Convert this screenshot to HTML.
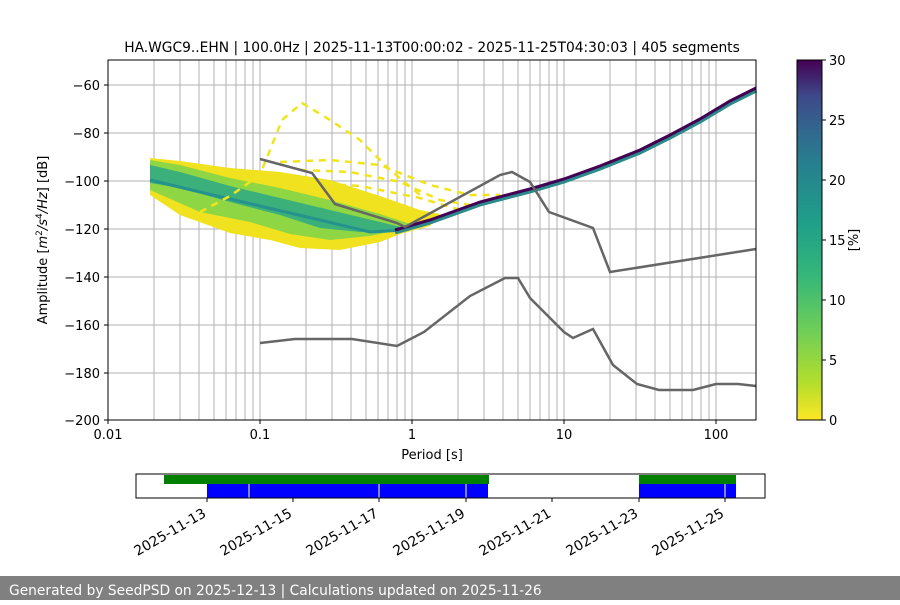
<!DOCTYPE html>
<html><head><meta charset="utf-8"><style>
body{margin:0;background:#fff;}
svg text{font-family:"DejaVu Sans","Liberation Sans",sans-serif;fill:#000;}
</style></head><body>
<svg width="900" height="600" xmlns="http://www.w3.org/2000/svg">
<defs>
<linearGradient id="vir" x1="0" y1="1" x2="0" y2="0">
<stop offset="0" stop-color="#fde725"/><stop offset="0.1" stop-color="#b5de2b"/><stop offset="0.25" stop-color="#6ece58"/><stop offset="0.4" stop-color="#35b779"/><stop offset="0.55" stop-color="#1f9e89"/><stop offset="0.7" stop-color="#26828e"/><stop offset="0.8" stop-color="#31688e"/><stop offset="0.9" stop-color="#3e4989"/><stop offset="1" stop-color="#440154"/>
</linearGradient>
</defs>
<text x="432" y="52" font-size="13.8" text-anchor="middle">HA.WGC9..EHN | 100.0Hz | 2025-11-13T00:00:02 - 2025-11-25T04:30:03 | 405 segments</text>
<!-- grid -->
<g stroke="#b0b0b0" stroke-width="1">
<line x1="154" y1="60" x2="154" y2="420"/><line x1="180" y1="60" x2="180" y2="420"/><line x1="199" y1="60" x2="199" y2="420"/><line x1="214" y1="60" x2="214" y2="420"/><line x1="226" y1="60" x2="226" y2="420"/><line x1="236" y1="60" x2="236" y2="420"/><line x1="245" y1="60" x2="245" y2="420"/><line x1="253" y1="60" x2="253" y2="420"/><line x1="260" y1="60" x2="260" y2="420"/>
<line x1="306" y1="60" x2="306" y2="420"/><line x1="332" y1="60" x2="332" y2="420"/><line x1="351" y1="60" x2="351" y2="420"/><line x1="366" y1="60" x2="366" y2="420"/><line x1="378" y1="60" x2="378" y2="420"/><line x1="388" y1="60" x2="388" y2="420"/><line x1="397" y1="60" x2="397" y2="420"/><line x1="405" y1="60" x2="405" y2="420"/><line x1="412" y1="60" x2="412" y2="420"/>
<line x1="458" y1="60" x2="458" y2="420"/><line x1="484" y1="60" x2="484" y2="420"/><line x1="503" y1="60" x2="503" y2="420"/><line x1="518" y1="60" x2="518" y2="420"/><line x1="530" y1="60" x2="530" y2="420"/><line x1="540" y1="60" x2="540" y2="420"/><line x1="549" y1="60" x2="549" y2="420"/><line x1="557" y1="60" x2="557" y2="420"/><line x1="564" y1="60" x2="564" y2="420"/>
<line x1="610" y1="60" x2="610" y2="420"/><line x1="636" y1="60" x2="636" y2="420"/><line x1="655" y1="60" x2="655" y2="420"/><line x1="670" y1="60" x2="670" y2="420"/><line x1="682" y1="60" x2="682" y2="420"/><line x1="692" y1="60" x2="692" y2="420"/><line x1="701" y1="60" x2="701" y2="420"/><line x1="709" y1="60" x2="709" y2="420"/><line x1="716" y1="60" x2="716" y2="420"/>
<line x1="108" y1="85" x2="756" y2="85"/><line x1="108" y1="133" x2="756" y2="133"/><line x1="108" y1="181" x2="756" y2="181"/><line x1="108" y1="229" x2="756" y2="229"/><line x1="108" y1="277" x2="756" y2="277"/><line x1="108" y1="325" x2="756" y2="325"/><line x1="108" y1="373" x2="756" y2="373"/>
</g>
<!-- spectrogram approx -->
<polygon fill="#f0e21f" points="150,158 180,161 230,168 280,172 330,180 380,196 420,210 440,214 430,226 400,234 380,242 340,250 300,248 270,240 230,233 180,215 150,195"/>
<polygon fill="#8fd644" points="150,160 180,165 230,178 280,188 330,200 380,214 410,224 400,230 370,236 330,240 290,234 250,222 200,212 150,190"/>
<polygon fill="#3bb07b" points="150,165 180,172 230,186 280,198 330,210 380,222 405,228 395,231 360,232 320,228 280,215 230,202 180,188 150,183"/>
<polyline fill="none" stroke="#26928c" stroke-width="3" points="150,180 200,192 260,206 320,220 370,232 405,230"/>
<g fill="none" stroke="#f2e41c" stroke-width="2.5" stroke-dasharray="7,6">
<polyline points="200,212 230,196 260,175 282,120 302,103 330,120 360,140 390,170 420,195"/>
<polyline points="280,162 330,160 380,165 430,185 470,195 500,195"/>
<polyline points="300,170 350,172 400,182 440,200 470,205"/>
<polyline points="300,182 360,186 420,198 460,210"/>
</g>
<polyline fill="none" stroke="#2a8a8c" stroke-width="5" points="395,232 430,222 480,204 530,191 564,181 600,168 640,152 670,137 700,121 730,103 756,90"/>
<polyline fill="none" stroke="#440154" stroke-width="3" points="395,230 430,220 480,202 530,189 564,179 600,166 640,150 670,135 700,119 730,101 756,88"/>
<!-- noise models -->
<g fill="none" stroke="#666" stroke-width="2.5">
<polyline points="260,159 312,173 335,204 397,223 405,227 500,175 512,172 530,182 549,212 593,228 610,272 756,249"/>
<polyline points="260,343 295,339 352,339 397,346 424,332 470,296 505,278 518,278 530,298 564,332 573,338 593,329 613,365 637,384 659,390 693,390 716,384 738,384 756,386"/>
</g>
<rect x="108" y="60" width="648" height="360" fill="none" stroke="#000" stroke-width="1"/>
<!-- axes ticks -->
<g stroke="#000"><line x1="108" y1="420" x2="108" y2="424"/><line x1="260" y1="420" x2="260" y2="424"/><line x1="412" y1="420" x2="412" y2="424"/><line x1="564" y1="420" x2="564" y2="424"/><line x1="716" y1="420" x2="716" y2="424"/>
<line x1="104" y1="85" x2="108" y2="85"/><line x1="104" y1="133" x2="108" y2="133"/><line x1="104" y1="181" x2="108" y2="181"/><line x1="104" y1="229" x2="108" y2="229"/><line x1="104" y1="277" x2="108" y2="277"/><line x1="104" y1="325" x2="108" y2="325"/><line x1="104" y1="373" x2="108" y2="373"/><line x1="104" y1="420" x2="108" y2="420"/></g>
<g font-size="13" text-anchor="middle"><text x="108" y="439">0.01</text><text x="260" y="439">0.1</text><text x="412" y="439">1</text><text x="564" y="439">10</text><text x="716" y="439">100</text></g>
<text x="432" y="459" font-size="13" text-anchor="middle">Period [s]</text>
<g font-size="13" text-anchor="end"><text x="100" y="90">−60</text><text x="100" y="138">−80</text><text x="100" y="186">−100</text><text x="100" y="234">−120</text><text x="100" y="282">−140</text><text x="100" y="330">−160</text><text x="100" y="378">−180</text><text x="100" y="425">−200</text></g>
<text transform="translate(47,240) rotate(-90)" font-size="13" text-anchor="middle">Amplitude [<tspan font-style="italic">m</tspan><tspan dy="-5" font-size="9">2</tspan><tspan dy="5" font-style="italic">/s</tspan><tspan dy="-5" font-size="9">4</tspan><tspan dy="5" font-style="italic">/Hz</tspan>] [dB]</text>
<!-- colorbar -->
<rect x="797" y="60" width="25" height="360" fill="url(#vir)" stroke="#000"/>
<g stroke="#000"><line x1="822" y1="60" x2="826" y2="60"/><line x1="822" y1="120" x2="826" y2="120"/><line x1="822" y1="180" x2="826" y2="180"/><line x1="822" y1="240" x2="826" y2="240"/><line x1="822" y1="300" x2="826" y2="300"/><line x1="822" y1="360" x2="826" y2="360"/><line x1="822" y1="420" x2="826" y2="420"/></g>
<g font-size="13"><text x="829" y="65">30</text><text x="829" y="125">25</text><text x="829" y="185">20</text><text x="829" y="245">15</text><text x="829" y="305">10</text><text x="829" y="365">5</text><text x="829" y="425">0</text></g>
<text transform="translate(858,240) rotate(-90)" font-size="13" text-anchor="middle">[%]</text>
<!-- timeline -->
<rect x="164" y="475" width="325" height="9" fill="#008000"/>
<rect x="207" y="484" width="281" height="14" fill="#0000ff"/>
<rect x="639" y="475" width="97" height="9" fill="#008000"/>
<rect x="639" y="484" width="97" height="14" fill="#0000ff"/>
<g stroke="#fff" stroke-width="1"><line x1="249" y1="484" x2="249" y2="498"/><line x1="379" y1="484" x2="379" y2="498"/><line x1="466" y1="484" x2="466" y2="498"/><line x1="725" y1="484" x2="725" y2="498"/></g>
<rect x="136" y="474" width="629" height="24" fill="none" stroke="#000"/>
<g stroke="#000"><line x1="207" y1="498" x2="207" y2="502"/><line x1="293" y1="498" x2="293" y2="502"/><line x1="379" y1="498" x2="379" y2="502"/><line x1="466" y1="498" x2="466" y2="502"/><line x1="552" y1="498" x2="552" y2="502"/><line x1="639" y1="498" x2="639" y2="502"/><line x1="725" y1="498" x2="725" y2="502"/></g>
<g font-size="13.8" text-anchor="end">
<text transform="translate(207,516) rotate(-30)">2025-11-13</text>
<text transform="translate(293,516) rotate(-30)">2025-11-15</text>
<text transform="translate(379,516) rotate(-30)">2025-11-17</text>
<text transform="translate(466,516) rotate(-30)">2025-11-19</text>
<text transform="translate(552,516) rotate(-30)">2025-11-21</text>
<text transform="translate(639,516) rotate(-30)">2025-11-23</text>
<text transform="translate(725,516) rotate(-30)">2025-11-25</text>
</g>
<rect x="0" y="576" width="900" height="24" fill="#808080"/>
<text x="9" y="595" font-size="13.8" style="fill:#fff">Generated by SeedPSD on 2025-12-13 | Calculations updated on 2025-11-26</text>
</svg>
</body></html>
